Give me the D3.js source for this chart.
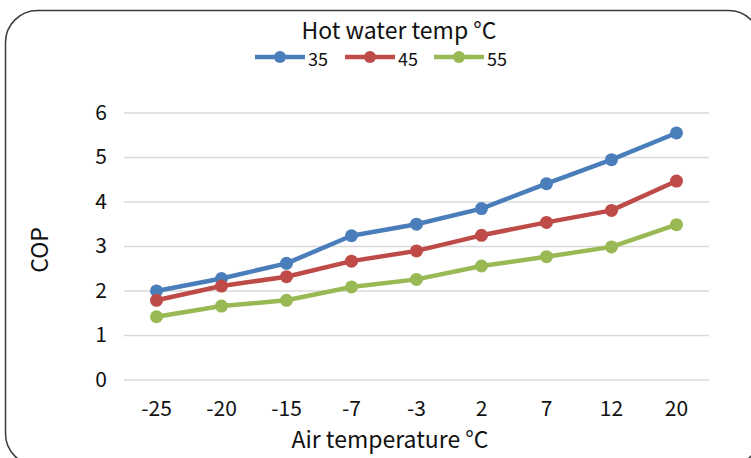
<!DOCTYPE html>
<html><head><meta charset="utf-8">
<script src="https://cdn.jsdelivr.net/npm/d3@7"></script>
<style>body{margin:0;background:#fff}svg{display:block}text{font-family:"Noto Sans CJK SC","Noto Sans",sans-serif;fill:#111}</style>
</head><body><svg id="c" width="751" height="458"></svg>
<script>
const categories = ["-25","-20","-15","-7","-3","2","7","12","20"];
const seriesNames = ["35","45","55"];
const cop35 = [1.99,2.27,2.61,3.23,3.49,3.84,4.40,4.94,5.54];
const cop45 = [1.78,2.10,2.31,2.66,2.89,3.24,3.53,3.80,4.46];
const cop55 = [1.41,1.65,1.78,2.08,2.25,2.55,2.76,2.98,3.48];
const yTicks = [0,1,2,3,4,5,6];
const colors = ["#4A7EBB","#BE4B48","#98B954"];
const series = [cop35, cop45, cop55];

const svg = d3.select("#c");
svg.append("rect").attr("x",5.5).attr("y",10.5).attr("width",755).attr("height",455)
  .attr("rx",32).attr("fill","none").attr("stroke","#3a3a3a").attr("stroke-width",1.5);

const x = d3.scaleBand().domain(categories).range([124,709]);
const y = d3.scaleLinear().domain([0,6]).range([379.5,112.5]);

const gy = svg.append("g").attr("transform","translate(124,0)")
  .call(d3.axisLeft(y).tickValues(yTicks).tickSize(-585).tickPadding(17).tickFormat(d3.format("d")));
gy.select(".domain").remove();
gy.selectAll(".tick line").attr("stroke","#d9d9d9").attr("stroke-width",1.5);
gy.selectAll(".tick text").attr("font-size",21).attr("font-family",null);

const gx = svg.append("g").attr("transform","translate(0,379.5)")
  .call(d3.axisBottom(x).tickSize(0).tickPadding(22));
gx.select(".domain").remove();
gx.selectAll(".tick text").attr("font-size",21).attr("font-family",null);

const line = d3.line().x((d,i)=>x(categories[i])+x.bandwidth()/2).y(d=>y(d));
series.forEach((s,k)=>{
  svg.append("path").datum(s).attr("d",line).attr("fill","none")
    .attr("stroke",colors[k]).attr("stroke-width",4.5).attr("stroke-linejoin","round");
  svg.selectAll(null).data(s).enter().append("circle")
    .attr("cx",(d,i)=>x(categories[i])+x.bandwidth()/2).attr("cy",d=>y(d))
    .attr("r",6.5).attr("fill",colors[k]);
});

svg.append("text").attr("x",38).attr("y",250).attr("transform","rotate(-90,38,250)")
  .attr("text-anchor","middle").attr("dominant-baseline","central").attr("font-size",23).text("COP");
svg.append("text").attr("x",390).attr("y",448).attr("text-anchor","middle").attr("font-size",23).text("Air temperature °C");
svg.append("text").attr("x",399).attr("y",38.5).attr("text-anchor","middle").attr("font-size",23).text("Hot water temp °C");

const legX = [255,345,434];
seriesNames.forEach((n,k)=>{
  const g = svg.append("g").attr("transform",`translate(${legX[k]},57)`);
  g.append("line").attr("x1",0).attr("x2",50).attr("stroke",colors[k]).attr("stroke-width",4.5);
  g.append("circle").attr("cx",25).attr("r",6).attr("fill",colors[k]);
  g.append("text").attr("x",53).attr("y",1).attr("dominant-baseline","central").attr("font-size",18).text(n);
});
</script></body></html>
